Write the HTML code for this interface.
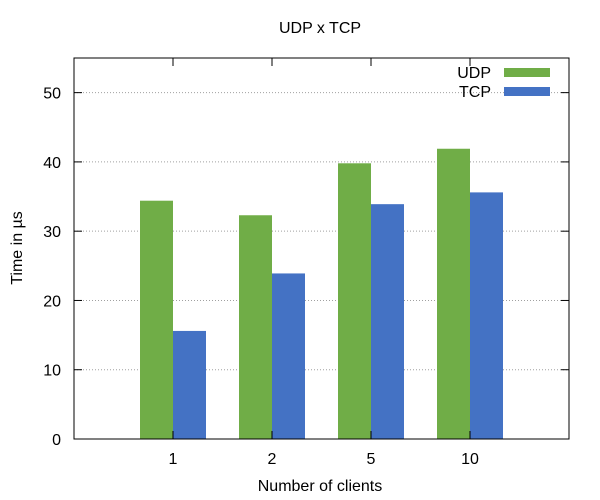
<!DOCTYPE html>
<html><head><meta charset="utf-8"><style>body{margin:0;background:#fff}svg{display:block;font-family:"Liberation Sans",sans-serif}</style></head>
<body>
<svg id="chart" width="600" height="500">
<rect width="600" height="500" fill="#fff"/>
<g id="grid"></g>
<g id="bars"></g>
<g id="axes"></g>
</svg>
<script>
const categories = ["1", "2", "5", "10"];
const udpValues = [34.4, 32.3, 39.8, 41.9];
const tcpValues = [15.6, 23.9, 33.9, 35.6];
const yTicks = [0, 10, 20, 30, 40, 50];
const NS = "http://www.w3.org/2000/svg";
const L = 74, R = 569, T = 58, B = 439, yMax = 55;
const xScale = v => L + (v + 1) / 5 * (R - L);
const yScale = v => B - v / yMax * (B - T);
function mk(tag, attrs, parent, text) {
  const e = document.createElementNS(NS, tag);
  for (const k in attrs) e.setAttribute(k, attrs[k]);
  if (text !== undefined) e.textContent = text;
  parent.appendChild(e);
  return e;
}
const svg = document.getElementById("chart");
const grid = document.getElementById("grid"), bars = document.getElementById("bars"), axes = document.getElementById("axes");
yTicks.forEach(t => {
  const y = yScale(t);
  if (t > 0) {
    const g = mk("line", {x1: L, x2: R, y1: y, y2: y, stroke: "#a0a0a0", "stroke-width": 1, "stroke-dasharray": "1,2"}, grid);
    
    
  }
  mk("line", {x1: L, x2: L + 8, y1: y, y2: y, stroke: "#000"}, axes);
  mk("line", {x1: R, x2: R - 8, y1: y, y2: y, stroke: "#000"}, axes);
  const lab = mk("text", {x: L - 13, y: y + 6, "text-anchor": "end", "font-size": 16}, axes, String(t));
  
  
});
const bw = (xScale(1) - xScale(0)) / 3;
categories.forEach((c, i) => {
  const cx = xScale(i);
  const u = mk("rect", {x: cx - bw, y: yScale(udpValues[i]), width: bw, height: B - yScale(udpValues[i]), fill: "#70ad47"}, bars);
  
  
  const t = mk("rect", {x: cx, y: yScale(tcpValues[i]), width: bw, height: B - yScale(tcpValues[i]), fill: "#4472c4"}, bars);
  
  
  mk("line", {x1: cx, x2: cx, y1: B, y2: B - 8, stroke: "#000"}, axes);
  mk("line", {x1: cx, x2: cx, y1: T, y2: T + 8, stroke: "#000"}, axes);
  const lab = mk("text", {x: cx, y: B + 25, "text-anchor": "middle", "font-size": 16}, axes, c);
  
  
});
const frame = mk("rect", {x: L, y: T, width: R - L, height: B - T, fill: "none", stroke: "#000"}, axes);


const title = mk("text", {x: 320, y: 33, "text-anchor": "middle", "font-size": 16}, svg, "UDP x TCP");


const xt = mk("text", {x: 320, y: 491, "text-anchor": "middle", "font-size": 16}, svg, "Number of clients");


const yt = mk("text", {x: 0, y: 0, "text-anchor": "middle", "font-size": 16, transform: "translate(22,248) rotate(-90)"}, svg, "Time in µs");


[["UDP", "#70ad47", 72], ["TCP", "#4472c4", 91]].forEach(([n, col, y]) => {
  const lt = mk("text", {x: 491, y: y + 6, "text-anchor": "end", "font-size": 16}, svg, n);
  
  
  const sw = mk("rect", {x: 504, y: y - 4, width: 46, height: 9, fill: col}, svg);
  
  
});
</script>
</body></html>
